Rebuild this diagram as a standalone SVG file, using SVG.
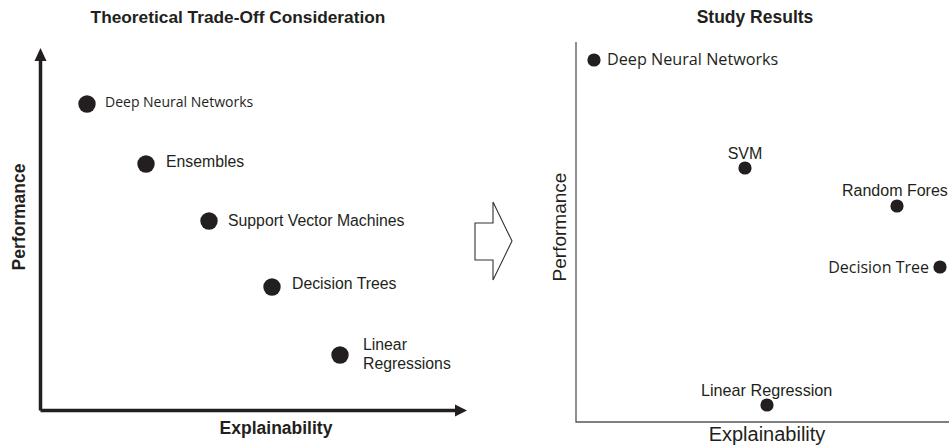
<svg xmlns="http://www.w3.org/2000/svg" width="949" height="448" viewBox="0 0 949 448">
<defs>
<style>
.title{font-family:"Liberation Sans",Arial,sans-serif;font-weight:bold;font-size:17.3px;fill:#231f20;text-anchor:middle}
.axb{font-family:"Liberation Sans",Arial,sans-serif;font-weight:bold;font-size:17.5px;fill:#231f20;text-anchor:middle}
.axr{font-family:"Liberation Sans",Arial,sans-serif;font-size:20px;fill:#231f20;text-anchor:middle}
.lab{font-family:"Liberation Sans",Arial,sans-serif;font-size:15.8px;fill:#231f20}
.labc{font-family:"Open Sans","Noto Sans",sans-serif;font-size:14px;fill:#231f20}
.labc2{font-family:"Open Sans","Noto Sans",sans-serif;font-size:16.2px;fill:#231f20}
.dotL{fill:#231f20}
.dotR{fill:#231f20}
.axisL{stroke:#231f20;stroke-width:3.5;fill:none}
.axisR{stroke:#555;stroke-width:1.3;fill:none}
</style>
</defs>
<rect width="949" height="448" fill="#fff"/>

<g id="left-chart">
<text class="title" x="238" y="23">Theoretical Trade-Off Consideration</text>
<g id="axes-left">
<path class="axisL" d="M40.5,410.5 L40.5,60"/>
<path class="axisL" d="M40.5,410.5 L455,410.5"/>
<path d="M34.5,61 L40.5,48 L46.5,61 Z" fill="#231f20"/>
<path d="M455,404.5 L467,410.5 L455,416.5 Z" fill="#231f20"/>
</g>
<text class="axb" transform="translate(25,217) rotate(-90)">Performance</text>
<text class="axb" x="276" y="434">Explainability</text>
<g id="l-dnn"><circle class="dotL" cx="87" cy="104" r="8.7"/><text class="labc" x="105" y="106.5">Deep Neural Networks</text></g>
<g id="l-ens"><circle class="dotL" cx="146" cy="164" r="8.7"/><text class="lab" x="166" y="167">Ensembles</text></g>
<g id="l-svm"><circle class="dotL" cx="209" cy="221" r="8.7"/><text class="lab" x="228" y="226">Support Vector Machines</text></g>
<g id="l-dt"><circle class="dotL" cx="272" cy="287" r="8.7"/><text class="lab" x="292" y="289">Decision Trees</text></g>
<g id="l-lr"><circle class="dotL" cx="340" cy="355" r="8.7"/><text class="lab" x="363" y="350">Linear</text><text class="lab" x="363" y="369">Regressions</text></g>
</g>

<g id="transition-arrow">
<polygon points="475,223 493,223 493,202 512,241 493,280 493,260 475,260" fill="#fff" stroke="#333" stroke-width="1.1"/>
</g>

<g id="right-chart">
<text class="title" style="font-size:17.5px" x="755" y="23">Study Results</text>
<g id="axes-right">
<path class="axisR" d="M576,42 L576,422 L949,422"/>
</g>
<text class="axr" style="font-size:19px" transform="translate(566,227) rotate(-90)">Performance</text>
<text class="axr" x="767" y="441">Explainability</text>
<g id="r-dnn"><circle class="dotR" cx="594" cy="60" r="6.6"/><text class="labc2" x="607" y="64.5">Deep Neural Networks</text></g>
<g id="r-svm"><circle class="dotR" cx="745" cy="168" r="6.6"/><text class="lab" style="font-size:16px" x="745" y="159" text-anchor="middle">SVM</text></g>
<g id="r-rf"><circle class="dotR" cx="897" cy="206" r="6.6"/><text class="lab" style="font-size:16px" x="842" y="196">Random Fores</text></g>
<g id="r-dt"><circle class="dotR" cx="940" cy="267" r="6.6"/><text class="labc2" style="font-size:16px" x="929" y="273" text-anchor="end">Decision Tree</text></g>
<g id="r-lr"><circle class="dotR" cx="767" cy="405" r="6.6"/><text class="lab" style="font-size:16.2px" x="701" y="396">Linear Regression</text></g>
</g>
</svg>
